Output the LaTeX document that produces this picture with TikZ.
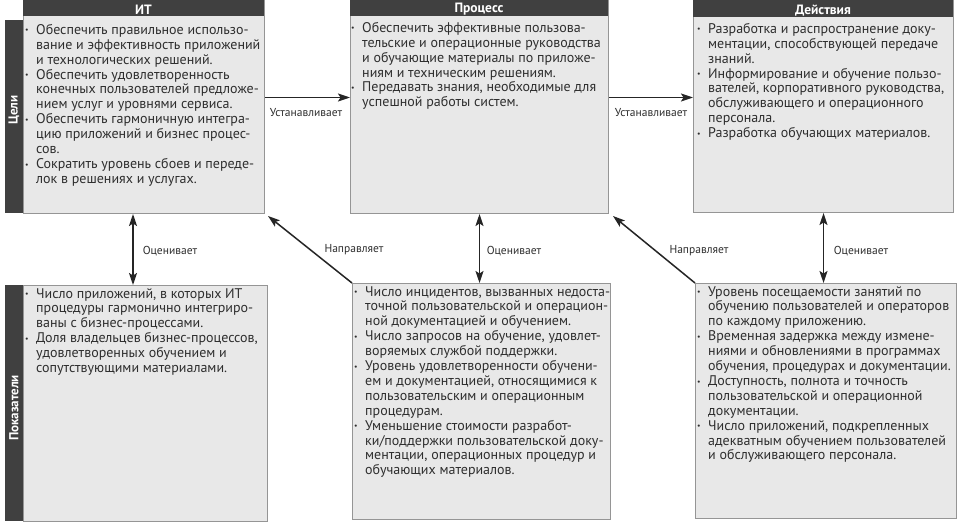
\documentclass[tikz,border=0pt]{standalone}
\usepackage{fontspec}
\setmainfont{PT Sans}
\usetikzlibrary{arrows.meta}
\definecolor{hdr}{HTML}{404040}
\definecolor{boxfill}{HTML}{E8E8E8}
\definecolor{boxline}{HTML}{959595}
\definecolor{txt}{HTML}{2E2E2E}
\definecolor{arr}{HTML}{252525}
\newcommand\bi{\makebox[11pt][l]{\raisebox{0.2ex}{\scalebox{0.55}{\textbullet}}}}
\newcommand\ci{\hspace*{11pt}}
\tikzset{
  panel/.style={draw=boxline, fill=boxfill, line width=1pt, anchor=north west, inner sep=0pt},
  hdrbar/.style={fill=hdr, anchor=north west, inner sep=0pt},
  hdrtext/.style={text=white, font=\bfseries\fontsize{13.5}{15}\selectfont, inner sep=0pt},
  sidebar/.style={fill=hdr, anchor=north west, inner sep=0pt, minimum width=18pt},
  sidetext/.style={text=white, font=\bfseries\fontsize{13}{15}\selectfont, rotate=90, inner sep=0pt},
  bodytext/.style={anchor=north west, inner sep=0pt, align=left, text=txt, font=\fontsize{14}{14.9}\selectfont},
  conn/.style={draw=arr, line width=1.5pt, -{Stealth[length=12pt,width=8pt,inset=2.5pt]}},
  bconn/.style={draw=arr, line width=1.5pt, {Stealth[length=12pt,width=8pt,inset=2.5pt]}-{Stealth[length=12pt,width=8pt,inset=2.5pt]}},
  lbl/.style={text=txt, font=\fontsize{11.5}{13}\selectfont, inner sep=0pt}
}
\begin{document}
\begin{tikzpicture}[x=1pt,y=-1pt]
\useasboundingbox (0,0) rectangle (965,524);
\fill[white] (0,0) rectangle (965,524);

% top panels
\node[panel, minimum width=241pt, minimum height=213pt] (itbox) at (23,0) {};
\node[panel, minimum width=258pt, minimum height=213pt] (procbox) at (350,0) {};
\node[panel, minimum width=260pt, minimum height=212pt] (actbox) at (693,0) {};
% headers
\node[hdrbar, minimum width=241pt, minimum height=16pt] (h1) at (23,0) {};
\node[hdrbar, minimum width=258pt, minimum height=16pt] (h2) at (350,0) {};
\node[hdrbar, minimum width=260pt, minimum height=17pt] (h3) at (693,0) {};
\node[hdrtext] (h1t) at (143.5,9.5) {ИТ};
\node[hdrtext] (h2t) at (479,9.5) {Процесс};
\node[hdrtext] (h3t) at (823,10.5) {Действия};
% sidebars
\node[sidebar, minimum height=193pt] (sb1) at (5,20) {};
\node[sidetext] (sb1t) at (14,110) {Цели};

% bottom panels
\node[panel, minimum width=244pt, minimum height=236pt] (ind1) at (23,285) {};
\node[panel, minimum width=258pt, minimum height=236pt] (ind2) at (352,283) {};
\node[panel, minimum width=261pt, minimum height=235pt] (ind3) at (695,283) {};
\node[sidebar, minimum height=236pt] (sb2) at (5,285) {};
\node[sidetext] (sb2t) at (14,408) {Показатели};

% texts
\node[bodytext] (itT) at (25,24) {%
\bi Обеспечить правильное использо-\\
\ci вание и эффективность приложений\\
\ci и технологических решений.\\
\bi Обеспечить удовлетворенность\\
\ci конечных пользователей предложе-\\
\ci нием услуг и уровнями сервиса.\\
\bi Обеспечить гармоничную интегра-\\
\ci цию приложений и бизнес процес-\\
\ci сов.\\
\bi Сократить уровень сбоев и переде-\\
\ci лок в решениях и услугах.};

\node[bodytext] (procT) at (351,22) {%
\bi Обеспечить эффективные пользова-\\
\ci тельские и операционные руководства\\
\ci и обучающие материалы по приложе-\\
\ci ниям и техническим решениям.\\
\bi Передавать знания, необходимые для\\
\ci успешной работы систем.};

\node[bodytext] (actT) at (697,23) {%
\bi Разработка и распространение доку-\\
\ci ментации, способствующей передаче\\
\ci знаний.\\
\bi Информирование и обучение пользо-\\
\ci вателей, корпоративного руководства,\\
\ci обслуживающего и операционного\\
\ci персонала.\\
\bi Разработка обучающих материалов.};

\node[bodytext] (ind1T) at (25,288) {%
\bi Число приложений, в которых ИТ\\
\ci процедуры гармонично интегриро-\\
\ci ваны с бизнес-процессами.\\
\bi Доля владельцев бизнес-процессов,\\
\ci удовлетворенных обучением и\\
\ci сопутствующими материалами.};

\node[bodytext] (ind2T) at (354,286) {%
\bi Число инцидентов, вызванных недоста-\\
\ci точной пользовательской и операцион-\\
\ci ной документацией и обучением.\\
\bi Число запросов на обучение, удовлет-\\
\ci воряемых службой поддержки.\\
\bi Уровень удовлетворенности обучени-\\
\ci ем и документацией, относящимися к\\
\ci пользовательским и операционным\\
\ci процедурам.\\
\bi Уменьшение стоимости разработ-\\
\ci ки/поддержки пользовательской доку-\\
\ci ментации, операционных процедур и\\
\ci обучающих материалов.};

\node[bodytext] (ind3T) at (697,286) {%
\bi Уровень посещаемости занятий по\\
\ci обучению пользователей и операторов\\
\ci по каждому приложению.\\
\bi Временная задержка между измене-\\
\ci ниями и обновлениями в программах\\
\ci обучения, процедурах и документации.\\
\bi Доступность, полнота и точность\\
\ci пользовательской и операционной\\
\ci документации.\\
\bi Число приложений, подкрепленных\\
\ci адекватным обучением пользователей\\
\ci и обслуживающего персонала.};

% connectors
\draw[conn] ([yshift=9.5pt]itbox.east) -- ([yshift=9.5pt]procbox.west);
\draw[conn] ([yshift=9.5pt]procbox.east) -- ([yshift=9pt]actbox.west);
\coordinate (c1) at (133,250);
\draw[bconn] (itbox.south -| c1) -- (ind1.north -| c1);
\draw[bconn] (procbox.south) -- (ind2.north -| procbox.south);
\draw[bconn] (actbox.south) -- (ind3.north -| actbox.south);
\draw[conn] (ind2.north west) -- ([shift={(3pt,-2pt)}]itbox.south east);
\draw[conn] (ind3.north west) -- ([shift={(4pt,-2pt)}]procbox.south east);

% labels
\node[lbl] (l1) at (306,113) {Устанавливает};
\node[lbl] (l2) at (651,113) {Устанавливает};
\node[lbl] (l3) at (170,251) {Оценивает};
\node[lbl] (l4) at (514,251) {Оценивает};
\node[lbl] (l5) at (861,251) {Оценивает};
\node[lbl] (l6) at (354,250) {Направляет};
\node[lbl] (l7) at (699,251) {Направляет};
\end{tikzpicture}
\end{document}
